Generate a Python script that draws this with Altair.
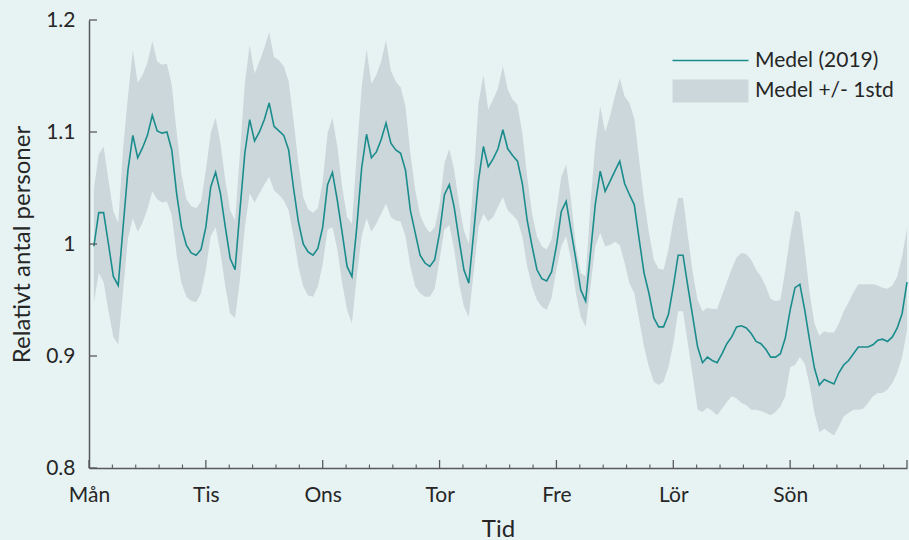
import altair as alt
import pandas as pd

# Weekday labels and hourly series (hour 1..168 of the week)
day_names = ["Mån", "Tis", "Ons", "Tor", "Fre", "Lör", "Sön"]
hours = list(range(1, 169))

medel = [
    0.998, 1.028, 1.028, 1.000, 0.971, 0.963, 1.015, 1.066, 1.097, 1.077, 1.086, 1.097,
    1.115, 1.101, 1.099, 1.100, 1.084, 1.045, 1.015, 0.999, 0.992, 0.990, 0.995, 1.015,
    1.051, 1.064, 1.045, 1.015, 0.987, 0.977, 1.030, 1.081, 1.111, 1.092, 1.100, 1.111,
    1.126, 1.105, 1.101, 1.097, 1.084, 1.050, 1.020, 1.000, 0.993, 0.990, 0.996, 1.015,
    1.053, 1.064, 1.039, 1.010, 0.980, 0.971, 1.015, 1.068, 1.098, 1.077, 1.082, 1.093,
    1.108, 1.090, 1.084, 1.081, 1.066, 1.030, 1.010, 0.990, 0.983, 0.980, 0.986, 1.010,
    1.044, 1.053, 1.033, 1.004, 0.977, 0.965, 1.010, 1.057, 1.087, 1.069, 1.076, 1.085,
    1.102, 1.085, 1.079, 1.074, 1.054, 1.021, 0.998, 0.977, 0.969, 0.967, 0.975, 0.998,
    1.029, 1.038, 1.012, 0.986, 0.959, 0.949, 0.992, 1.036, 1.065, 1.047, 1.056, 1.065,
    1.074, 1.054, 1.044, 1.035, 1.004, 0.974, 0.956, 0.934, 0.926, 0.926, 0.937, 0.962,
    0.990, 0.990, 0.962, 0.935, 0.908, 0.894, 0.899, 0.896, 0.894, 0.902, 0.911, 0.917,
    0.926, 0.927, 0.925, 0.920, 0.913, 0.911, 0.906, 0.899, 0.899, 0.902, 0.916, 0.941,
    0.961, 0.964, 0.941, 0.914, 0.889, 0.874, 0.879, 0.877, 0.875, 0.885, 0.892, 0.896,
    0.902, 0.908, 0.908, 0.908, 0.910, 0.914, 0.915, 0.913, 0.917, 0.925, 0.938, 0.966,
]

ovre = [
    1.049, 1.080, 1.087, 1.057, 1.029, 1.019, 1.085, 1.132, 1.173, 1.144, 1.151, 1.162,
    1.181, 1.163, 1.160, 1.161, 1.142, 1.100, 1.062, 1.040, 1.034, 1.032, 1.038, 1.066,
    1.099, 1.113, 1.090, 1.057, 1.030, 1.021, 1.081, 1.143, 1.178, 1.152, 1.163, 1.175,
    1.189, 1.167, 1.164, 1.159, 1.145, 1.111, 1.072, 1.042, 1.031, 1.028, 1.032, 1.056,
    1.099, 1.113, 1.087, 1.051, 1.024, 1.018, 1.081, 1.140, 1.174, 1.143, 1.151, 1.163,
    1.182, 1.155, 1.145, 1.140, 1.123, 1.081, 1.048, 1.026, 1.016, 1.010, 1.015, 1.035,
    1.072, 1.085, 1.066, 1.036, 1.012, 1.000, 1.060, 1.126, 1.151, 1.120, 1.129, 1.139,
    1.159, 1.138, 1.129, 1.124, 1.099, 1.060, 1.027, 1.007, 0.998, 0.995, 1.004, 1.030,
    1.060, 1.071, 1.039, 0.998, 0.974, 0.971, 1.036, 1.090, 1.123, 1.100, 1.114, 1.132,
    1.148, 1.132, 1.126, 1.112, 1.075, 1.039, 1.010, 0.986, 0.978, 0.977, 0.995, 1.021,
    1.041, 1.041, 1.007, 0.974, 0.950, 0.940, 0.943, 0.942, 0.942, 0.954, 0.966, 0.978,
    0.988, 0.992, 0.991, 0.986, 0.977, 0.971, 0.962, 0.951, 0.949, 0.950, 0.977, 1.007,
    1.030, 1.028, 0.995, 0.956, 0.929, 0.918, 0.922, 0.921, 0.921, 0.929, 0.940, 0.948,
    0.957, 0.964, 0.964, 0.964, 0.964, 0.963, 0.961, 0.960, 0.963, 0.971, 0.989, 1.014,
]

undre = [
    0.947, 0.974, 0.966, 0.940, 0.917, 0.910, 0.958, 1.005, 1.023, 1.011, 1.019, 1.031,
    1.047, 1.040, 1.037, 1.038, 1.026, 0.990, 0.965, 0.953, 0.949, 0.948, 0.956, 0.977,
    1.007, 1.015, 0.992, 0.962, 0.938, 0.934, 0.968, 1.015, 1.045, 1.037, 1.045, 1.053,
    1.060, 1.048, 1.044, 1.039, 1.030, 1.007, 0.980, 0.962, 0.954, 0.953, 0.962, 0.982,
    1.013, 1.015, 0.995, 0.965, 0.941, 0.929, 0.971, 1.007, 1.023, 1.011, 1.018, 1.027,
    1.036, 1.024, 1.021, 1.020, 1.007, 0.980, 0.962, 0.956, 0.953, 0.953, 0.960, 0.986,
    1.013, 1.017, 0.995, 0.965, 0.944, 0.935, 0.974, 1.015, 1.027, 1.020, 1.024, 1.033,
    1.042, 1.030, 1.026, 1.021, 1.007, 0.980, 0.962, 0.950, 0.944, 0.941, 0.952, 0.977,
    0.998, 1.007, 0.986, 0.956, 0.935, 0.926, 0.962, 0.998, 1.010, 0.998, 0.999, 1.002,
    0.999, 0.983, 0.965, 0.956, 0.932, 0.908, 0.890, 0.877, 0.874, 0.877, 0.890, 0.911,
    0.940, 0.940, 0.911, 0.882, 0.852, 0.850, 0.854, 0.851, 0.847, 0.853, 0.859, 0.864,
    0.862, 0.858, 0.856, 0.852, 0.852, 0.851, 0.849, 0.847, 0.850, 0.855, 0.864, 0.890,
    0.892, 0.899, 0.893, 0.874, 0.849, 0.832, 0.835, 0.832, 0.829, 0.837, 0.846, 0.849,
    0.852, 0.852, 0.853, 0.858, 0.864, 0.867, 0.867, 0.870, 0.876, 0.885, 0.899, 0.923,
]

y_ticks = [0.8, 0.9, 1.0, 1.1, 1.2]
series_names = ["Medel (2019)", "Medel +/- 1std"]

LINE = "#1B8C8C"
BAND = "#CCD7DB"
BG = "#E7F3F3"
AXIS = "#595959"
TEXT = "#262626"
FONT = "Lato"

W, H = 818, 448

df = pd.DataFrame({
    "dag": [h / 24 for h in hours],
    "medel": medel,
    "ovre": ovre,
    "undre": undre,
})

x_scale = alt.Scale(domain=[0, 7], nice=False, zero=False)
y_scale = alt.Scale(domain=[0.8, 1.2], nice=False, zero=False)

x_axis = alt.Axis(
    values=list(range(7)),
    labelExpr=f"{day_names}[datum.value]",
    labelFlush=False,
    ticks=False, grid=False,
    domainColor=AXIS, domainWidth=1.5,
    labelFont=FONT, labelFontSize=21, labelColor=TEXT, labelPadding=16,
    title="Tid", titleFont=FONT, titleFontSize=24, titleFontWeight="normal",
    titleColor=TEXT, titlePadding=12,
)
y_axis = alt.Axis(
    values=y_ticks, format="~g",
    labelFlush=False,
    ticks=False, grid=False,
    domainColor=AXIS, domainWidth=1.5,
    labelFont=FONT, labelFontSize=21, labelColor=TEXT, labelPadding=14,
    title="Relativt antal personer", titleFont=FONT, titleFontSize=24,
    titleFontWeight="normal", titleColor=TEXT, titlePadding=11,
)

band = alt.Chart(df).mark_area(color=BAND, opacity=1).encode(
    x=alt.X("dag:Q", scale=x_scale, axis=x_axis),
    y=alt.Y("undre:Q", scale=y_scale, axis=y_axis),
    y2="ovre:Q",
)

line = alt.Chart(df).mark_line(color=LINE, strokeWidth=1.6).encode(
    x=alt.X("dag:Q", scale=x_scale, axis=x_axis),
    y=alt.Y("medel:Q", scale=y_scale, axis=y_axis),
)

# Inward-pointing tick marks on both axes
major_df = pd.DataFrame({"t": list(range(8))})
minor_df = pd.DataFrame({"t": [d + k / 5 for d in range(7) for k in range(1, 5)]})
ytick_df = pd.DataFrame({"v": y_ticks})

major_ticks = alt.Chart(major_df).mark_rule(color=AXIS, strokeWidth=1.3).encode(
    x=alt.X("t:Q", scale=x_scale, axis=x_axis),
    y=alt.value(H), y2=alt.value(H - 8),
)
minor_ticks = alt.Chart(minor_df).mark_rule(color=AXIS, strokeWidth=1.1).encode(
    x=alt.X("t:Q", scale=x_scale, axis=x_axis),
    y=alt.value(H), y2=alt.value(H - 3.5),
)
y_tick_marks = alt.Chart(ytick_df).mark_rule(color=AXIS, strokeWidth=1.3).encode(
    y=alt.Y("v:Q", scale=y_scale, axis=y_axis),
    x=alt.value(0), x2=alt.value(8),
)

# Legend: a line swatch and a band swatch drawn as wide rectangles
line_swatch = "M-4.222,-0.094L4.222,-0.094L4.222,0.094L-4.222,0.094Z"
band_swatch = "M-4.222,-1.289L4.222,-1.289L4.222,1.289L-4.222,1.289Z"
legend_df = pd.DataFrame({"serie": series_names})
legend_layer = alt.Chart(legend_df).mark_point(filled=True, opacity=0, size=1).encode(
    x=alt.value(0), y=alt.value(0),
    color=alt.Color("serie:N", scale=alt.Scale(domain=series_names, range=[LINE, BAND]),
                    legend=alt.Legend(title=None)),
    shape=alt.Shape("serie:N", scale=alt.Scale(domain=series_names, range=[line_swatch, band_swatch]),
                    legend=alt.Legend(title=None)),
)

chart = (
    alt.layer(band, line, major_ticks, minor_ticks, y_tick_marks, legend_layer)
    .properties(
        width=W, height=H,
        autosize=alt.AutoSizeParams(type="none"),
        padding={"left": 89, "top": 20, "right": 2, "bottom": 72},
    )
    .configure(background=BG)
    .configure_view(strokeWidth=0, fill=BG)
    .configure_legend(
        orient="none", legendX=611, legendY=30,
        padding=0, symbolSize=324, symbolStrokeWidth=0, symbolOpacity=1,
        symbolOffset=0, labelOffset=34, rowPadding=7.5,
        labelFont=FONT, labelFontSize=21, labelColor=TEXT, labelLimit=300,
    )
)

chart.save("out.html", embed_options={"renderer": "svg", "actions": False})
